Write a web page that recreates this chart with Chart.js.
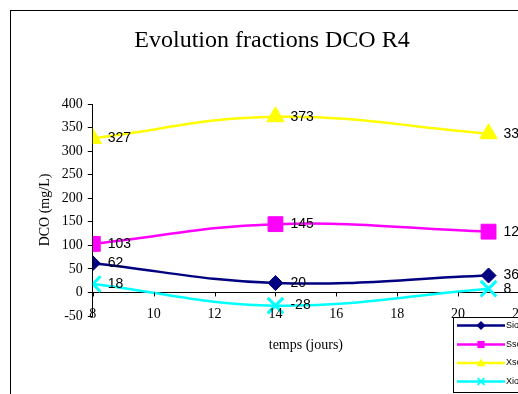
<!DOCTYPE html>
<html>
<head>
<meta charset="utf-8">
<script src="https://cdn.jsdelivr.net/npm/chart.js@4/dist/chart.umd.min.js"></script>
<style>
  html, body { margin: 0; padding: 0; background: #fff; }
  body { width: 518px; height: 394px; overflow: hidden; position: relative; }
  #wrap { position: absolute; left: 0; top: 0; width: 544px; height: 394px; }
  #frame { position: absolute; left: 10px; top: 10px; width: 600px; height: 500px;
           border-left: 1px solid #000; border-top: 1px solid #000; pointer-events: none; }
</style>
</head>
<body>
<div id="wrap"><canvas id="c" width="544" height="394"></canvas></div>
<div id="frame"></div>
<script>
// Sampling days and DCO fractions (mg/L)
const days = [8, 14, 21];
const sio = [62, 20, 36];
const ssc = [103, 145, 129];
const xsc = [327, 373, 337];
const xio = [18, -28, 8];
const seriesNames = ['Sio', 'Ssc', 'Xsc', 'Xio'];
const xTicks = [8, 10, 12, 14, 16, 18, 20, 22];
const yTicks = [-50, 0, 50, 100, 150, 200, 250, 300, 350, 400];

const serif = '"Liberation Serif", "Times New Roman", serif';
const sans = '"Liberation Sans", Arial, sans-serif';

const toPoints = vals => vals.map((v, i) => ({ x: days[i], y: v }));

const styles = [
  { color: '#000080', pointStyle: 'rectRot', radius: 7.5, border: 1 },
  { color: '#FF00FF', pointStyle: 'rect', radius: 10.5, border: 1 },
  { color: '#FFFF00', pointStyle: 'triangle', radius: 10, border: 1 },
  { color: '#00FFFF', pointStyle: 'crossRot', radius: 11, border: 3 }
];
const values = [sio, ssc, xsc, xio];

const datasets = values.map((vals, i) => ({
  label: seriesNames[i],
  data: toPoints(vals),
  borderColor: styles[i].color,
  backgroundColor: styles[i].color,
  borderWidth: 2.5,
  pointStyle: styles[i].pointStyle,
  pointRadius: styles[i].radius,
  pointHoverRadius: styles[i].radius,
  pointBorderWidth: styles[i].border,
  pointBackgroundColor: styles[i].color,
  pointBorderColor: styles[i].color,
  tension: 0.4,
  order: 4 - i
}));

// Title, value labels, x axis ticks on the zero line, and the legend box
const decorations = {
  id: 'decorations',
  afterDatasetsDraw(chart) {
    const ctx = chart.ctx;
    ctx.save();
    ctx.font = '14px ' + sans;
    ctx.fillStyle = '#000';
    ctx.textAlign = 'left';
    ctx.textBaseline = 'middle';
    chart.data.datasets.forEach((ds, di) => {
      const meta = chart.getDatasetMeta(di);
      meta.data.forEach((el, j) => {
        ctx.fillText(String(ds.data[j].y), el.x + 15, el.y);
      });
    });
    ctx.restore();
  },
  afterDraw(chart) {
    const ctx = chart.ctx;
    const xs = chart.scales.x, ys = chart.scales.y;
    ctx.save();
    // tick marks on the zero axis, labels along the bottom edge
    const y0 = ys.getPixelForValue(0);
    ctx.strokeStyle = '#000';
    ctx.lineWidth = 1;
    ctx.fillStyle = '#000';
    ctx.font = '14px ' + serif;
    ctx.textAlign = 'center';
    ctx.textBaseline = 'alphabetic';
    xTicks.forEach(t => {
      const px = xs.getPixelForValue(t);
      const sx = Math.round(px) + 0.5;
      ctx.beginPath();
      ctx.moveTo(sx, y0);
      ctx.lineTo(sx, y0 + 4);
      ctx.stroke();
      ctx.fillText(String(t), px, chart.chartArea.bottom + 2);
    });
    // chart title
    ctx.font = '24px ' + serif;
    ctx.fillText('Evolution fractions DCO R4', 272, 47);

    // legend
    const lx = 453.5, ly = 317.5, lw = 110, lh = 75;
    ctx.fillStyle = '#fff';
    ctx.fillRect(lx, ly, lw, lh);
    ctx.strokeStyle = '#000';
    ctx.strokeRect(lx, ly, lw, lh);
    const rowY = [325.5, 344.5, 363, 381.5];
    chart.data.datasets.forEach((ds, i) => {
      const y = rowY[i];
      ctx.strokeStyle = ds.borderColor;
      ctx.lineWidth = 2.5;
      ctx.beginPath();
      ctx.moveTo(457, y);
      ctx.lineTo(505, y);
      ctx.stroke();
      drawMarker(ctx, ds.pointStyle, 481, y, 4.5, ds.borderColor);
      ctx.fillStyle = '#000';
      ctx.font = '9px ' + sans;
      ctx.textAlign = 'left';
      ctx.textBaseline = 'middle';
      ctx.fillText(ds.label, 506, y);
    });
    ctx.restore();
  }
};

function drawMarker(ctx, style, x, y, r, color) {
  ctx.save();
  ctx.fillStyle = color;
  ctx.strokeStyle = color;
  ctx.beginPath();
  if (style === 'rectRot') {
    ctx.moveTo(x, y - r); ctx.lineTo(x + r, y); ctx.lineTo(x, y + r); ctx.lineTo(x - r, y);
    ctx.closePath(); ctx.fill();
  } else if (style === 'rect') {
    ctx.rect(x - r * 0.8, y - r * 0.8, r * 1.6, r * 1.6); ctx.fill();
  } else if (style === 'triangle') {
    ctx.moveTo(x, y - r); ctx.lineTo(x + r * 0.95, y + r * 0.7); ctx.lineTo(x - r * 0.95, y + r * 0.7);
    ctx.closePath(); ctx.fill();
  } else {
    ctx.lineWidth = 2;
    const d = r * 0.75;
    ctx.moveTo(x - d, y - d); ctx.lineTo(x + d, y + d);
    ctx.moveTo(x + d, y - d); ctx.lineTo(x - d, y + d);
    ctx.stroke();
  }
  ctx.restore();
}

new Chart(document.getElementById('c'), {
  type: 'line',
  data: { datasets },
  options: {
    responsive: false,
    animation: false,
    events: [],
    layout: { padding: { top: 104, left: 10, right: 25, bottom: 0 } },
    plugins: { legend: { display: false }, title: { display: false }, tooltip: { enabled: false } },
    scales: {
      x: {
        type: 'linear',
        min: xTicks[0],
        max: xTicks[xTicks.length - 1],
        afterBuildTicks: s => { s.ticks = xTicks.map(v => ({ value: v })); },
        ticks: { display: false },
        grid: { drawOnChartArea: false, drawTicks: false },
        border: { display: false },
        title: { display: true, text: 'temps (jours)', font: { family: serif, size: 14 }, color: '#000',
                 padding: { top: 20.6, bottom: 40.6 } }
      },
      y: {
        min: yTicks[0],
        max: yTicks[yTicks.length - 1],
        afterBuildTicks: s => { s.ticks = yTicks.map(v => ({ value: v })); },
        ticks: { font: { family: serif, size: 14 }, color: '#000', padding: 5 },
        grid: {
          color: c => (c.tick && c.tick.value === 0 ? '#000' : 'rgba(0,0,0,0)'),
          tickColor: '#000',
          tickLength: 5,
          lineWidth: 1
        },
        border: { display: true, color: '#000', width: 1 },
        title: { display: true, text: 'DCO (mg/L)', font: { family: serif, size: 14 }, color: '#000',
                 padding: { top: 27, bottom: 3 } }
      }
    }
  },
  plugins: [decorations]
});
</script>
</body>
</html>
